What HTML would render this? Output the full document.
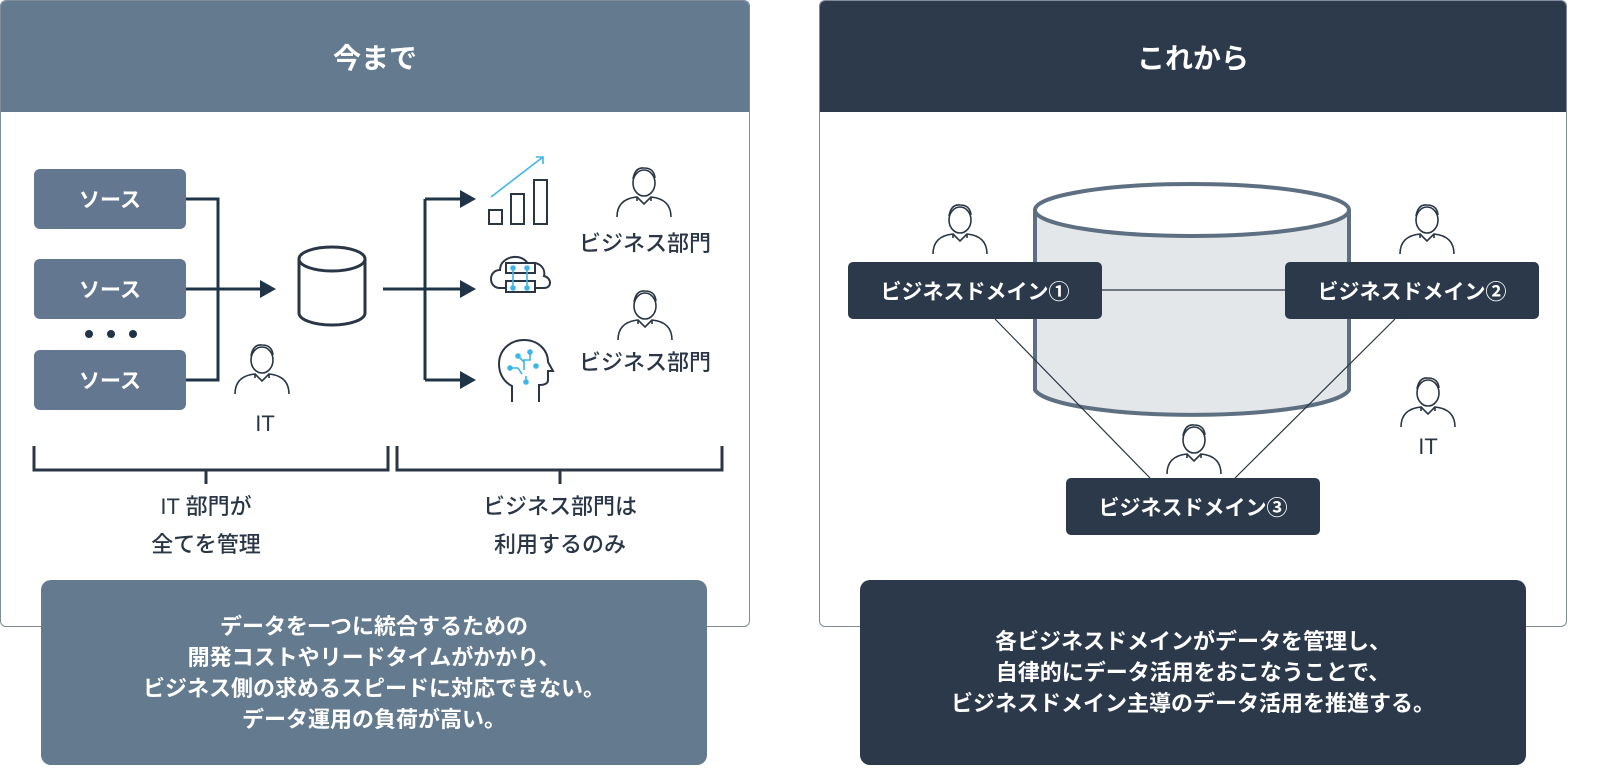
<!DOCTYPE html>
<html><head><meta charset="utf-8"><style>
*{margin:0;padding:0;box-sizing:border-box}
body{width:1600px;height:782px;background:#fff;position:relative;font-family:"Liberation Sans","Noto Sans CJK JP",sans-serif;color:#2a3646;overflow:hidden}
.a{position:absolute}
.panel{position:absolute;border:1.5px solid #7f8d9b;border-radius:6px;background:#fff;overflow:hidden}
.hd{position:absolute;left:0;right:0;top:0;height:111px;color:#fff;font-size:28px;font-weight:bold;display:flex;align-items:center;justify-content:center}
.src{position:absolute;left:34px;width:152px;height:60px;background:#637790;border-radius:6px;color:#fff;font-size:21px;font-weight:bold;display:flex;align-items:center;justify-content:center}
.dom{position:absolute;width:254px;height:57px;background:#2c394a;border-radius:5px;color:#fff;font-size:21px;font-weight:bold;display:flex;align-items:center;justify-content:center}
.note{position:absolute;border-radius:10px;color:#fff;font-size:22px;font-weight:bold;line-height:31px;text-align:center;display:flex;align-items:center;justify-content:center}
.t{position:absolute;font-size:22px;font-weight:500;text-align:center;line-height:38px}
</style></head><body>
<div class="panel" style="left:0;top:0;width:750px;height:627px"><div class="hd" style="background:#647a8e">今まで</div></div>
<div class="panel" style="left:819px;top:0;width:748px;height:627px"><div class="hd" style="background:#2d3a4b">これから</div></div>

<div class="src" style="top:169px">ソース</div>
<div class="src" style="top:259px">ソース</div>
<div class="src" style="top:350px">ソース</div>

<svg class="a" style="left:0;top:0" width="1600" height="782">
<defs>
<g id="man" fill="none" stroke="#2a3646" stroke-width="1.6">
<ellipse cx="0" cy="-12" rx="11" ry="13"/>
<path d="M-11-16q2-12 11-11q10 0 11 10"/>
<path d="M-27 22q0-18 20-20l7 7 7-7q20 2 20 20"/>
<path d="M-7 2l0 4M7 2l0 4"/>
</g>
</defs>
<g stroke="#1f3447" stroke-width="3" fill="none">
<path d="M186 199H218V380H186M186 289H262M383 289H425M425 199V380M425 199H462M425 289H462M425 380H462"/>
</g>
<g fill="#1f3447">
<path d="M260 280l16 9-16 9z"/><path d="M460 190l16 9-16 9z"/><path d="M460 280l16 9-16 9z"/><path d="M460 371l16 9-16 9z"/>
<circle cx="89" cy="334" r="4"/><circle cx="111" cy="334" r="4"/><circle cx="133" cy="334" r="4"/>
</g>
<g stroke="#2a3646" stroke-width="3" fill="#fff">
<path d="M299 259V313A33 12 0 0 0 365 313V259"/><ellipse cx="332" cy="259" rx="33" ry="12"/>
</g>
<g stroke="#2a3646" stroke-width="3" fill="none">
<path d="M34 446V470H388V446M206 470V484M397 446V470H722V446M560 470V484"/>
</g>
<g stroke="#2a3646" stroke-width="2" fill="none">
<rect x="489" y="210" width="13" height="14"/><rect x="511" y="194" width="13" height="30"/><rect x="534" y="180" width="13" height="44"/>
<path d="M500 288c-12 0-12-18 0-18c0-14 22-18 28-6c10-4 18 4 16 12c8 2 8 12 0 12z"/>
<rect x="506" y="281" width="29" height="11" fill="#fff"/><rect x="506" y="263" width="29" height="10" fill="#fff"/>
<path d="M512 402v-16c-8-4-13-12-13-22c0-14 11-24 25-24c14 0 24 10 24 22l5 9h-5v9c0 4-4 5-9 5v17"/>
</g>
<g stroke="#3fb6e8" stroke-width="1.6" fill="#3fb6e8"><path d="M491 197L543 157M536 157h7v7" fill="none"/><path d="M513 268v20M527 268v20" fill="none"/>
<circle cx="513" cy="268" r="2"/><circle cx="527" cy="268" r="2"/><circle cx="513" cy="288" r="2"/><circle cx="527" cy="288" r="2"/>
<path d="M530 352v8h-6v10M518 356l6 6M510 368h8l4 6M526 376v6" fill="none"/>
<circle cx="530" cy="352" r="2"/><circle cx="518" cy="356" r="2"/><circle cx="510" cy="368" r="2"/><circle cx="526" cy="382" r="2"/><circle cx="536" cy="366" r="2"/>
</g>
<use href="#man" x="644" y="195"/>
<use href="#man" x="645" y="318"/>
<use href="#man" x="262" y="372"/>
<g stroke="#5d6f80" stroke-width="4">
<path d="M1035 210V390A158 28 0 0 0 1349 390V210" fill="#e4e7ea"/>
<ellipse cx="1192" cy="210" rx="157" ry="26" fill="#fff"/>
</g>
<g stroke="#2a3646" stroke-width="1.2"><path d="M1102 290H1285M995 319L1150 478M1395 319L1235 478"/></g>
<use href="#man" x="960" y="232"/>
<use href="#man" x="1427" y="232"/>
<use href="#man" x="1194" y="452"/>
<use href="#man" x="1428" y="405"/>
</svg>
<div class="t" style="left:230px;top:405px;width:70px">IT</div>
<div class="t" style="left:560px;top:225px;width:170px">ビジネス部門</div>
<div class="t" style="left:560px;top:344px;width:170px">ビジネス部門</div>
<div class="t" style="left:106px;top:488px;width:200px">IT 部門が<br>全てを管理</div>
<div class="t" style="left:440px;top:488px;width:240px">ビジネス部門は<br>利用するのみ</div>
<div class="t" style="left:1393px;top:428px;width:70px">IT</div>
<div class="dom" style="left:848px;top:262px">ビジネスドメイン①</div>
<div class="dom" style="left:1285px;top:262px">ビジネスドメイン②</div>
<div class="dom" style="left:1066px;top:478px">ビジネスドメイン③</div>
<div class="note" style="left:41px;top:580px;width:666px;height:185px;background:#647a8e">データを一つに統合するための<br>開発コストやリードタイムがかかり、<br>ビジネス側の求めるスピードに対応できない。<br>データ運用の負荷が高い。</div>
<div class="note" style="left:860px;top:580px;width:666px;height:185px;background:#2c394a">各ビジネスドメインがデータを管理し、<br>自律的にデータ活用をおこなうことで、<br>ビジネスドメイン主導のデータ活用を推進する。</div>
</body></html>
